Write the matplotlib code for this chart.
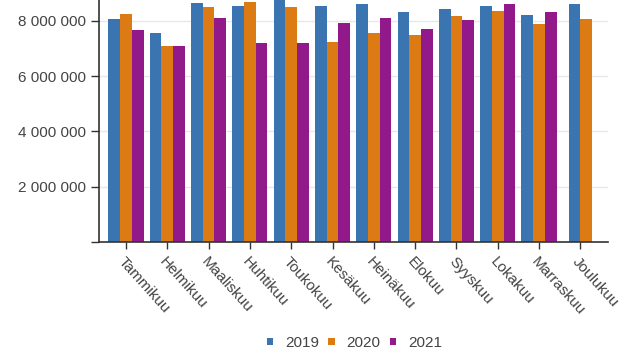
import numpy as np
import matplotlib.pyplot as plt
from matplotlib.patches import Patch
from matplotlib.ticker import FuncFormatter

plt.rcParams["font.family"] = ["Liberation Sans", "DejaVu Sans"]

# Data (monthly values)

months = ["Tammikuu", "Helmikuu", "Maaliskuu", "Huhtikuu", "Toukokuu", "Kesäkuu",
          "Heinäkuu", "Elokuu", "Syyskuu", "Lokakuu", "Marraskuu", "Joulukuu"]
years = ["2019", "2020", "2021"]

v2019 = [8070000, 7570000, 8640000, 8540000, 9000000, 8530000,
         8620000, 8330000, 8430000, 8530000, 8210000, 8600000]
v2020 = [8240000, 7090000, 8500000, 8700000, 8510000, 7250000,
         7550000, 7480000, 8180000, 8360000, 7890000, 8080000]
v2021 = [7660000, 7090000, 8120000, 7190000, 7210000, 7910000,
         8100000, 7700000, 8040000, 8610000, 8320000, np.nan]

colors = ["#3b75b1", "#dc7a14", "#91198a"]
text_col = "#444444"

series = [v2019, v2020, v2021]

# Figure

fig = plt.figure(figsize=(6.4, 3.5), dpi=100)
ax = fig.add_axes([99 / 640, 1 - 242 / 350, 509 / 640, 242 / 350])

bar_w = 0.283
x = np.arange(len(months))

for i in range(len(months)):
    present = [s for s in range(len(series)) if not np.isnan(series[s][i])]
    n = len(present)
    for k, s in enumerate(present):
        off = (k - (n - 1) / 2) * bar_w
        ax.bar(x[i] + off, series[s][i], width=bar_w, color=colors[s], zorder=2)

ax.set_xlim(-0.654, 11.67)
ax.set_ylim(0, 8760000)
ax.set_yticks([0, 2000000, 4000000, 6000000, 8000000])
ax.yaxis.set_major_formatter(FuncFormatter(
    lambda v, p: "" if v == 0 else f"{int(v):,}".replace(",", " ")))
ax.grid(axis="y", color="#e8e8e8", linewidth=1, zorder=0)
ax.set_axisbelow(True)

ax.set_xticks(x)
ax.set_xticklabels(months, rotation=-48, ha="left", va="top",
                   rotation_mode="anchor", fontsize=11, color=text_col)
ax.tick_params(axis="x", length=5, width=1, color="#333333", pad=4)
ax.tick_params(axis="y", length=6, width=1, color="#333333", labelsize=11,
               labelcolor=text_col, pad=3)

for side in ["top", "right"]:
    ax.spines[side].set_visible(False)
for side in ["left", "bottom"]:
    ax.spines[side].set_color("#333333")
    ax.spines[side].set_linewidth(1.2)

handles = [Patch(facecolor=c, edgecolor="none") for c in colors]
leg = fig.legend(handles, years, loc="center", bbox_to_anchor=(0.554, 0.02),
                 ncol=3, frameon=False, fontsize=11, handlelength=0.4,
                 handleheight=0.4, handletextpad=0.8, columnspacing=0.6)
for t in leg.get_texts():
    t.set_color(text_col)

fig.savefig("out.png", dpi=100)
